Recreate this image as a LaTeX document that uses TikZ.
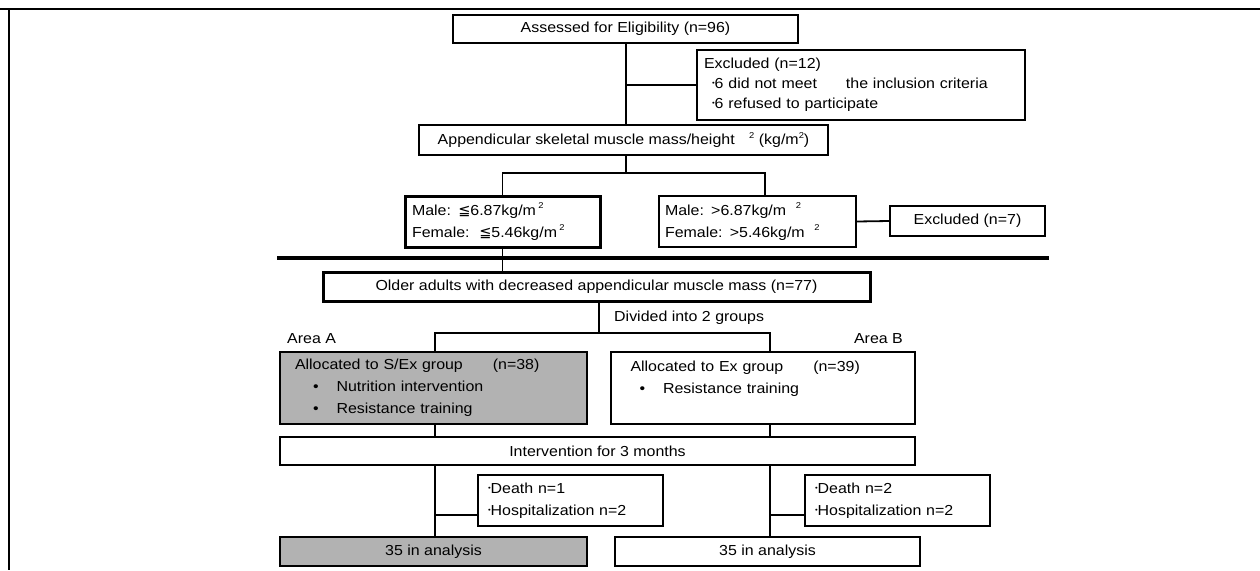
\documentclass[tikz,border=0pt]{standalone}
\usepackage{fontspec}
\setmainfont{Liberation Sans}[FakeStretch=1.1]
\newfontfamily\dejavu{DejaVu Sans}
\newcommand{\mysup}{\raisebox{0.45em}{\fontsize{8.5}{8.5}\selectfont 2}}
\newcommand{\mdot}{\raisebox{0.2em}{\fontsize{7}{7}\selectfont •}}
\begin{document}
\begin{tikzpicture}[x=1pt,y=-1pt,
  every node/.style={font=\fontsize{14.5}{22}\selectfont},
  box/.style={draw, line width=1.8pt, inner sep=0pt},
  thickbox/.style={box, line width=3pt},
  graybox/.style={box, fill=black!30},
  conn/.style={line width=1.8pt},
  frameline/.style={line width=1.6pt}]
\useasboundingbox (0,0) rectangle (1260,570);
% frame
\draw[frameline] (0,9) -- (1260,9);
\draw[frameline] (9,9) -- (9,570);
% nodes
\node[box, minimum width=345pt, minimum height=28pt] (assess) at (625.5,29) {Assessed for Eligibility (n=96)\hspace{20pt}};
\node[box, minimum width=328pt, minimum height=70pt, text width=314pt, align=left] (excl12) at (861,85)
  {Excluded (n=12)\\[-2pt]\hspace{8pt}\mdot 6 did not meet\hspace{2em}the inclusion criteria\\[-2pt]\hspace{8pt}\mdot 6 refused to participate};
\node[box, minimum width=409pt, minimum height=30pt] (append) at (623.5,140)
  {Appendicular skeletal muscle mass/height\hspace{1em}\mysup\ (kg/m\mysup)};
\node[thickbox, minimum width=195pt, minimum height=51pt, text width=181pt, align=left] (male1) at (502.5,221.5)
  {Male: {\dejavu ≦}6.87kg/m\,\mysup\\Female:\ \ {\dejavu ≦}5.46kg/m\,\mysup};
\node[box, minimum width=197pt, minimum height=51pt, text width=185pt, align=left] (male2) at (757.5,221.5)
  {Male: >6.87kg/m\ \ \mysup\\Female: >5.46kg/m\ \ \mysup};
\node[box, minimum width=155pt, minimum height=30pt] (excl7) at (967.5,221) {Excluded (n=7)};
\node[thickbox, minimum width=547pt, minimum height=29pt] (older) at (596.5,286.5)
  {Older adults with decreased appendicular muscle mass (n=77)\hspace{30pt}};
\node[anchor=west, inner sep=0pt] (divided) at (614,318) {Divided into 2 groups};
\node[anchor=west, inner sep=0pt] (areaA) at (287,339) {Area A};
\node[anchor=east, inner sep=0pt] (areaB) at (903,339) {Area B};
\node[graybox, minimum width=307pt, minimum height=72pt, text width=277pt, align=left] (sex) at (433.5,388)
  {Allocated to S/Ex group\hspace{30pt}(n=38)\\\hspace{18pt}•\hspace{18pt}Nutrition intervention\\\hspace{18pt}•\hspace{18pt}Resistance training};
\node[box, minimum width=304pt, minimum height=72pt, text width=265pt, align=left] (ex) at (763,388)
  {Allocated to Ex group\hspace{30pt}(n=39)\\\hspace{9pt}•\hspace{18pt}Resistance training\\\mbox{}};
\node[box, minimum width=635pt, minimum height=28pt] (interv) at (597.5,451) {Intervention for 3 months\hspace{14pt}};
\node[box, minimum width=185pt, minimum height=51pt, text width=165pt, align=left] (death1) at (570.5,500.5)
  {\mdot Death n=1\\\mdot Hospitalization n=2};
\node[box, minimum width=185pt, minimum height=51pt, text width=165pt, align=left] (death2) at (897.5,500.5)
  {\mdot Death n=2\\\mdot Hospitalization n=2};
\node[graybox, minimum width=307pt, minimum height=29pt] (anaL) at (433.5,551.5) {35 in analysis};
\node[box, minimum width=305pt, minimum height=29pt] (anaR) at (767.5,551.5) {35 in analysis};
% junction coordinates
\coordinate (t) at (626,0);
\coordinate (j1) at (626,173);
\coordinate (j1r) at (765,173);
\coordinate (j2) at (599,333);
\coordinate (sl) at (435,333);
\coordinate (sr) at (770,333);
\coordinate (dl) at (435,515);
\coordinate (dr) at (770,515);
\coordinate (hl) at (277,258);
\coordinate (hr) at (1049,258);
% connectors
\draw[conn] (t |- assess.south) -- (t |- append.north);
\draw[conn] (t |- excl12.west) -- (excl12.west);
\draw[conn] (t |- append.south) -- (j1);
\draw[conn] (male1.north) |- (j1) -- (j1r) -- (j1r |- male2.north);
\draw[conn] (male2.east) -- (excl7.west);
\draw[line width=4pt] (hl) -- (hr);
\draw[conn] (male1.south) -- (male1.south |- older.north);
\draw[conn] (j2 |- older.south) -- (j2);
\draw[conn] (sl |- sex.north) -- (sl) -- (sr) -- (sr |- ex.north);
\draw[conn] (sl |- sex.south) -- (sl |- interv.north);
\draw[conn] (sr |- ex.south) -- (sr |- interv.north);
\draw[conn] (sl |- interv.south) -- (sl |- anaL.north);
\draw[conn] (sr |- interv.south) -- (sr |- anaR.north);
\draw[conn] (dl) -- (dl -| death1.west);
\draw[conn] (dr) -- (dr -| death2.west);
\end{tikzpicture}
\end{document}
